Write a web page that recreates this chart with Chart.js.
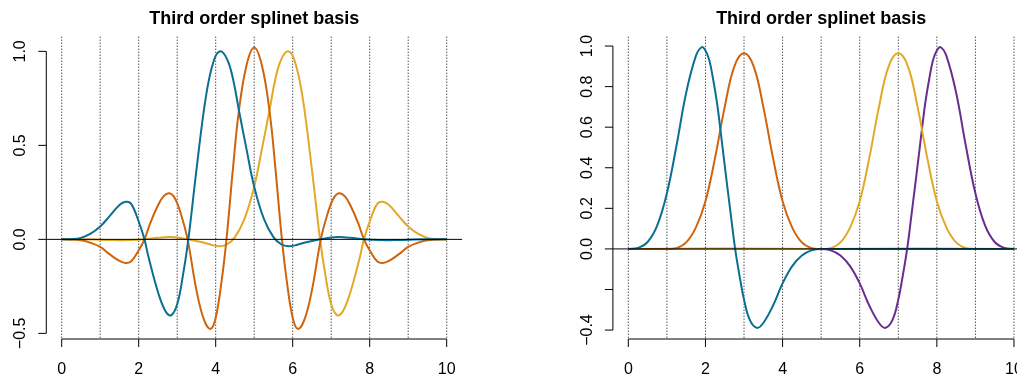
<!DOCTYPE html>
<html>
<head>
<meta charset="utf-8">
<title>Third order splinet basis</title>
<script src="https://cdn.jsdelivr.net/npm/chart.js@4.4.1/dist/chart.umd.min.js"></script>
<style>
  html, body { margin: 0; padding: 0; background: #fff; overflow: hidden; }
  body { width: 1017px; height: 376px; position: relative; }
  canvas { position: absolute; top: 0; }
  #left { left: 0; }
  #right { left: 508px; }
</style>
</head>
<body>
<canvas id="left" width="508" height="376"></canvas>
<canvas id="right" width="540" height="376"></canvas>
<script>
// knots of the splines (dotted verticals)
const knots = [0, 1, 2, 3, 4, 5, 6, 7, 8, 9, 10];
const xTicks = [0, 2, 4, 6, 8, 10];
const xLabels = ['0', '2', '4', '6', '8', '10'];

// left panel: one level of the splinet, [x, value] pairs
const leftYTicks = [-0.5, 0, 0.5, 1];
const leftYLabels = ['\u22120.5', '0.0', '0.5', '1.0'];

const leftBlue = [
  [0, 0], [0.25, 0.001], [0.5, 0.008], [0.75, 0.03], [1, 0.068], [1.25, 0.125], [1.5, 0.183],
  [1.66, 0.2], [1.8, 0.19], [2, 0.095], [2.15, 0], [2.25, -0.09], [2.5, -0.28], [2.7, -0.384],
  [2.84, -0.404], [3, -0.345], [3.15, -0.19], [3.29, 0], [3.5, 0.37], [3.75, 0.765], [3.95, 0.95],
  [4.12, 1.0], [4.3, 0.956], [4.45, 0.853], [4.6, 0.69], [4.8, 0.48], [5, 0.28], [5.25, 0.11],
  [5.5, 0.012], [5.7, -0.026], [5.9, -0.036], [6.1, -0.03], [6.35, -0.015], [6.7, 0], [7, 0.01],
  [7.2, 0.012], [7.5, 0.008], [7.85, 0], [8.25, -0.004], [8.6, -0.004], [9, -0.002], [9.5, 0], [10, 0]
];
const leftOrange = [
  [0, 0], [0.5, -0.005], [0.75, -0.018], [1, -0.04], [1.25, -0.08], [1.5, -0.115], [1.66, -0.126],
  [1.8, -0.118], [2, -0.058], [2.15, 0], [2.3, 0.087], [2.5, 0.18], [2.65, 0.23], [2.8, 0.245],
  [2.95, 0.215], [3.1, 0.132], [3.27, 0], [3.5, -0.27], [3.7, -0.43], [3.87, -0.476], [4, -0.417],
  [4.15, -0.227], [4.28, 0], [4.45, 0.38], [4.6, 0.68], [4.8, 0.925], [5, 1.02], [5.2, 0.925],
  [5.4, 0.68], [5.55, 0.38], [5.72, 0], [5.85, -0.227], [6, -0.417], [6.13, -0.476], [6.3, -0.43],
  [6.5, -0.27], [6.73, 0], [6.9, 0.132], [7.05, 0.215], [7.2, 0.245], [7.35, 0.23], [7.5, 0.18],
  [7.7, 0.087], [7.85, 0], [8, -0.058], [8.2, -0.118], [8.34, -0.126], [8.5, -0.115], [8.75, -0.08],
  [9, -0.04], [9.25, -0.018], [9.5, -0.005], [10, 0]
];
const leftGold = [
  [0, 0], [0.5, 0], [1, -0.002], [1.4, -0.004], [1.75, -0.004], [2.15, 0], [2.5, 0.008], [2.8, 0.012],
  [3, 0.01], [3.3, 0], [3.65, -0.015], [3.9, -0.03], [4.1, -0.036], [4.3, -0.026], [4.5, 0.012],
  [4.75, 0.11], [5, 0.28], [5.2, 0.48], [5.4, 0.69], [5.55, 0.853], [5.7, 0.956], [5.88, 1.0],
  [6.05, 0.95], [6.25, 0.765], [6.5, 0.37], [6.71, 0], [6.85, -0.19], [7, -0.345], [7.16, -0.404],
  [7.3, -0.384], [7.5, -0.28], [7.75, -0.09], [7.85, 0], [8, 0.095], [8.2, 0.19], [8.34, 0.2],
  [8.5, 0.183], [8.75, 0.125], [9, 0.068], [9.25, 0.03], [9.5, 0.008], [9.75, 0.001], [10, 0]
];

// right panel: the other level
const rightYTicks = [-0.4, -0.2, 0, 0.2, 0.4, 0.6, 0.8, 1];
const rightYLabels = ['\u22120.4', '', '0.0', '0.2', '0.4', '0.6', '0.8', '1.0'];

const rightBlue = [
  [0, 0], [0.25, 0.005], [0.5, 0.034], [0.75, 0.116], [1, 0.274], [1.25, 0.51], [1.5, 0.77],
  [1.75, 0.95], [1.9, 0.994], [2, 0.978], [2.1, 0.93], [2.2, 0.835], [2.3, 0.72], [2.38, 0.6],
  [2.5, 0.41], [2.65, 0.18], [2.77, 0], [2.9, -0.15], [3, -0.25], [3.15, -0.35], [3.33, -0.389],
  [3.5, -0.365], [3.75, -0.28], [4, -0.17], [4.25, -0.085], [4.5, -0.032], [4.75, -0.007], [5, 0], [10, 0]
];
const rightOrange = [
  [0, 0], [1, 0], [1.25, 0.004], [1.5, 0.032], [1.75, 0.105], [2, 0.235], [2.25, 0.45], [2.5, 0.7],
  [2.75, 0.9], [3, 0.964], [3.25, 0.9], [3.5, 0.7], [3.75, 0.45], [4, 0.235], [4.25, 0.105], [4.5, 0.032],
  [4.75, 0.004], [5, 0], [10, 0]
];
const rightGold = [
  [0, 0], [5, 0], [5.25, 0.004], [5.5, 0.032], [5.75, 0.105], [6, 0.235], [6.25, 0.45], [6.5, 0.7],
  [6.75, 0.9], [7, 0.964], [7.25, 0.9], [7.5, 0.7], [7.75, 0.45], [8, 0.235], [8.25, 0.105], [8.5, 0.032],
  [8.75, 0.004], [9, 0], [10, 0]
];
const rightPurple = [
  [0, 0], [5, 0], [5.25, -0.007], [5.5, -0.032], [5.75, -0.085], [6, -0.17], [6.25, -0.28],
  [6.5, -0.365], [6.67, -0.389], [6.85, -0.35], [7, -0.25], [7.1, -0.15], [7.23, 0], [7.35, 0.18],
  [7.5, 0.41], [7.62, 0.6], [7.7, 0.72], [7.8, 0.835], [7.9, 0.93], [8, 0.978], [8.1, 0.994],
  [8.25, 0.95], [8.5, 0.77], [8.75, 0.51], [9, 0.274], [9.25, 0.116], [9.5, 0.034], [9.75, 0.005], [10, 0]
];

const TEAL = '#0b6f93';
const ORANGE = '#d0640c';
const GOLD = '#e3a825';
const PURPLE = '#6b2c91';
const FONT = '"Liberation Sans", Arial, Helvetica, sans-serif';

// base-graphics style frame: dotted knots, zero line, detached axes, title
function frame(title, yTicks, yLabels) {
  return {
    id: 'frame',
    beforeDatasetsDraw(chart) {
      const { ctx, chartArea: a, scales: { x } } = chart;
      ctx.save();
      ctx.strokeStyle = '#000';
      ctx.lineWidth = 1;
      ctx.setLineDash([1, 2]);
      knots.forEach(k => {
        const px = x.getPixelForValue(k);
        ctx.beginPath();
        ctx.moveTo(px, a.top);
        ctx.lineTo(px, a.bottom);
        ctx.stroke();
      });
      ctx.restore();
    },
    afterDatasetsDraw(chart) {
      const { ctx, chartArea: a, scales: { y } } = chart;
      const py = y.getPixelForValue(0);
      ctx.save();
      ctx.strokeStyle = '#000';
      ctx.lineWidth = 1;
      ctx.beginPath();
      ctx.moveTo(a.left, py);
      ctx.lineTo(a.right, py);
      ctx.stroke();
      ctx.restore();
    },
    afterDraw(chart) {
      const { ctx, chartArea: a, scales: { x, y } } = chart;
      const tick = 8;
      ctx.save();
      ctx.strokeStyle = '#000';
      ctx.fillStyle = '#000';
      ctx.lineWidth = 1;

      // bottom axis
      const x0 = x.getPixelForValue(xTicks[0]);
      const x1 = x.getPixelForValue(xTicks[xTicks.length - 1]);
      ctx.beginPath();
      ctx.moveTo(x0, a.bottom);
      ctx.lineTo(x1, a.bottom);
      xTicks.forEach(t => {
        const px = x.getPixelForValue(t);
        ctx.moveTo(px, a.bottom);
        ctx.lineTo(px, a.bottom + tick);
      });
      ctx.stroke();
      ctx.font = '16px ' + FONT;
      ctx.textAlign = 'center';
      ctx.textBaseline = 'alphabetic';
      xTicks.forEach((t, i) => {
        ctx.fillText(xLabels[i], x.getPixelForValue(t), 373.5);
      });

      // left axis
      const ax = a.left;
      const y0 = y.getPixelForValue(yTicks[0]);
      const y1 = y.getPixelForValue(yTicks[yTicks.length - 1]);
      ctx.beginPath();
      ctx.moveTo(ax, y0);
      ctx.lineTo(ax, y1);
      yTicks.forEach(t => {
        const py = y.getPixelForValue(t);
        ctx.moveTo(ax, py);
        ctx.lineTo(ax - tick, py);
      });
      ctx.stroke();
      yTicks.forEach((t, i) => {
        if (!yLabels[i]) return;
        ctx.save();
        ctx.translate(ax - 21, y.getPixelForValue(t));
        ctx.rotate(-Math.PI / 2);
        ctx.fillText(yLabels[i], 0, 0);
        ctx.restore();
      });

      // title
      ctx.font = 'bold 18px ' + FONT;
      ctx.fillText(title, (a.left + a.right) / 2, 23.5);
      ctx.restore();
    }
  };
}

function curve(points, color) {
  return {
    data: points.map(p => ({ x: p[0], y: p[1] })),
    borderColor: color,
    borderWidth: 2,
    pointRadius: 0,
    fill: false,
    tension: 0.4
  };
}

function panel(id, datasets, yMin, yMax, padding, yTicks, yLabels) {
  return new Chart(document.getElementById(id), {
    type: 'line',
    data: { datasets },
    options: {
      responsive: false,
      animation: false,
      devicePixelRatio: 1,
      layout: { padding },
      plugins: { legend: { display: false }, tooltip: { enabled: false } },
      scales: {
        x: { type: 'linear', min: -0.4, max: 10.4, display: false },
        y: { type: 'linear', min: yMin, max: yMax, display: false }
      }
    },
    plugins: [frame('Third order splinet basis', yTicks, yLabels)]
  });
}

panel('left', [
  curve(leftBlue, TEAL),
  curve(leftOrange, ORANGE),
  curve(leftGold, GOLD)
], -0.53, 1.078, { left: 46.3, right: 45.9, top: 36.7, bottom: 37 }, leftYTicks, leftYLabels);

panel('right', [
  curve(rightBlue, TEAL),
  curve(rightOrange, ORANGE),
  curve(rightGold, GOLD),
  curve(rightPurple, PURPLE)
], -0.444, 1.046, { left: 104.9, right: 18.6, top: 36.7, bottom: 37 }, rightYTicks, rightYLabels);
</script>
</body>
</html>
